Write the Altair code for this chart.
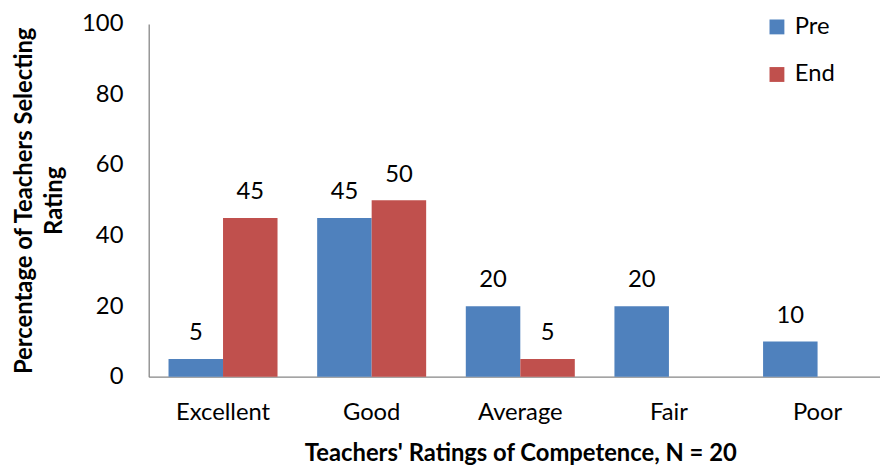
import altair as alt
import pandas as pd

categories = ["Excellent", "Good", "Average", "Fair", "Poor"]
series = ["Pre", "End"]
pre_values = [5, 45, 20, 20, 10]
end_values = [45, 50, 5, 0, 0]
colors = ["#4F81BD", "#C0504D"]

rows = []
for c, p, e in zip(categories, pre_values, end_values):
    rows.append({"Rating": c, "Series": "Pre", "Value": p})
    rows.append({"Rating": c, "Series": "End", "Value": e})
df = pd.DataFrame(rows)
df = df[df["Value"] > 0]

FONT = "Lato"
FS = 24
TFS = 24

x = alt.X(
    "Rating:N",
    sort=categories,
    scale=alt.Scale(range=[0, 750], paddingInner=0.26667, paddingOuter=0.13333),
    axis=alt.Axis(
        title="Teachers' Ratings of Competence, N = 20",
        labelAngle=0, ticks=False, tickSize=0, labelPadding=24,
        labelFontSize=FS, labelFont=FONT, labelColor="black",
        titleFont=FONT, titleFontSize=TFS, titleFontWeight="bold", titleColor="black",
        titleY=66, titleBaseline="top",
        domainColor="#868686", domainWidth=1.3,
    ),
)
xo = alt.XOffset("Series:N", sort=series, scale=alt.Scale(paddingInner=0, paddingOuter=0))
y = alt.Y(
    "Value:Q",
    scale=alt.Scale(domain=[0, 100]),
    axis=alt.Axis(
        values=[0, 20, 40, 60, 80, 100], grid=False, ticks=False, tickSize=0, labelPadding=26,
        labelFontSize=FS, labelFont=FONT, labelColor="black",
        title=["Percentage of Teachers Selecting", "Rating"],
        titleFont=FONT, titleFontSize=TFS, titleFontWeight="bold", titleColor="black",
        titleAngle=270, titleX=-137, titleY=178, titleBaseline="top", titleAlign="center",
        titleLineHeight=30,
        domainColor="#868686", domainWidth=1.3,
    ),
)
color = alt.Color(
    "Series:N",
    sort=series,
    scale=alt.Scale(domain=series, range=colors),
    legend=alt.Legend(
        title=None, orient="none", legendX=622, legendY=-9,
        symbolType="square", symbolSize=225, symbolStrokeWidth=0,
        labelFontSize=FS, labelFont=FONT, labelColor="black",
        rowPadding=24, padding=0, labelOffset=6,
    ),
)

bars = alt.Chart(df).mark_bar().encode(x=x, xOffset=xo, y=y, color=color)
labels = alt.Chart(df).mark_text(
    baseline="alphabetic", dy=-19, fontSize=FS, font=FONT, color="black"
).encode(x=x, xOffset=xo, y=y, text=alt.Text("Value:Q"))

chart = (
    alt.layer(bars, labels)
    .properties(
        width=738, height=356,
        autosize=alt.AutoSizeParams(type="none"),
        padding={"left": 142, "top": 14, "right": 0, "bottom": 88},
    )
    .configure_view(stroke=None)
)

chart.save("out.html", embed_options={"renderer": "svg", "actions": False})
